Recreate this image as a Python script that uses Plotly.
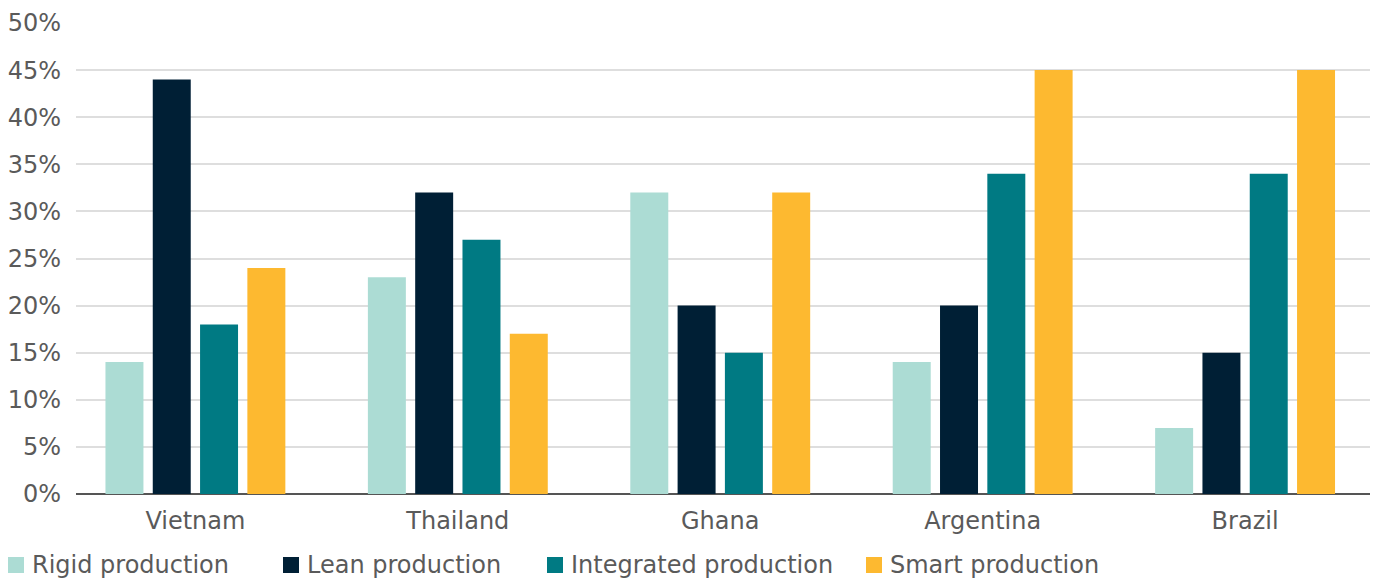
import plotly.graph_objects as go

countries = ["Vietnam", "Thailand", "Ghana", "Argentina", "Brazil"]
rigid = [14, 23, 32, 14, 7]
lean = [44, 32, 20, 20, 15]
integrated = [18, 27, 15, 34, 34]
smart = [24, 17, 32, 45, 45]

series = [
    ("Rigid production", rigid, "#acdcd4"),
    ("Lean production", lean, "#001f35"),
    ("Integrated production", integrated, "#007a83"),
    ("Smart production", smart, "#fdb930"),
]

W, H = 1381, 581
M_L, M_R, M_T, M_B = 76, 11, 23, 87
plot_w = W - M_L - M_R
plot_h = H - M_T - M_B

font_family = "DejaVu Sans, sans-serif"
text_color = "#5a5a5a"

fig = go.Figure()
for name, vals, color in series:
    fig.add_trace(go.Bar(
        x=countries, y=[v / 100 for v in vals], name=name,
        marker=dict(color=color, line=dict(width=0)),
        showlegend=False,
    ))

# Legend row under the axis: swatch + label per series
legend_left_px = [8, 283, 547, 866]
legend_mid_px = 565
swatch = 16


def px_x(px):
    return (px - M_L) / plot_w


def px_y(py):
    return (H - M_B - py) / plot_h


for (name, _, color), lx in zip(series, legend_left_px):
    fig.add_shape(
        type="rect", xref="paper", yref="paper",
        x0=px_x(lx), x1=px_x(lx + swatch),
        y0=px_y(legend_mid_px + swatch / 2), y1=px_y(legend_mid_px - swatch / 2),
        fillcolor=color, line=dict(width=0),
    )
    fig.add_annotation(
        text=name, xref="paper", yref="paper",
        x=px_x(lx + swatch + 6), y=px_y(legend_mid_px),
        xanchor="left", yanchor="middle", showarrow=False,
        font=dict(family=font_family, size=24, color=text_color),
    )

fig.update_layout(
    width=W, height=H,
    margin=dict(l=M_L, r=M_R, t=M_T, b=M_B),
    plot_bgcolor="white", paper_bgcolor="white",
    barmode="group", bargap=0.279, bargroupgap=0.197,
    font=dict(family=font_family, size=24, color=text_color),
    showlegend=False,
    xaxis=dict(
        range=[-0.455, 4.476], showgrid=False, ticks="",
        showline=False, ticklabelstandoff=10, automargin=False,
        tickfont=dict(size=24, color=text_color),
    ),
    yaxis=dict(
        range=[0, 0.5], dtick=0.05, tickformat=".0%",
        showgrid=True, gridcolor="#dedede", gridwidth=1.5,
        zeroline=True, zerolinecolor="#555555", zerolinewidth=1.5,
        ticks="", ticklabelstandoff=14, automargin=False,
        tickfont=dict(size=24, color=text_color),
    ),
)

fig.write_html("out.html")
